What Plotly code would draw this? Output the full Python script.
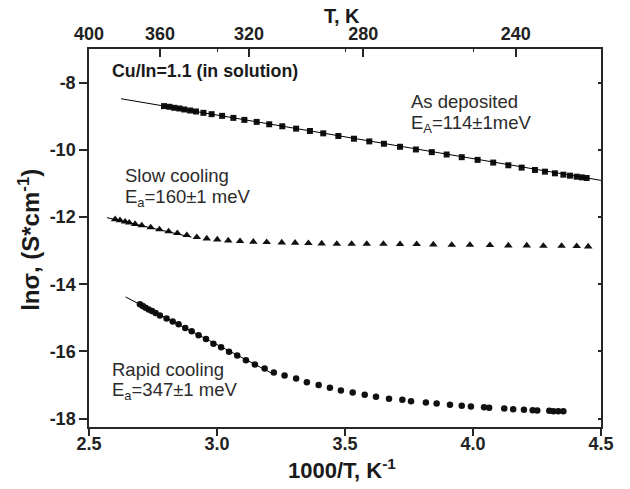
import plotly.graph_objects as go

# ---------------- data ----------------
dep_x = [2.793, 2.814, 2.833, 2.853, 2.872, 2.895, 2.918, 2.947, 2.979, 3.020,
         3.064, 3.107, 3.155, 3.204, 3.255, 3.309, 3.363, 3.415, 3.474, 3.535,
         3.595, 3.652, 3.715, 3.777, 3.839, 3.897, 3.956, 4.018, 4.079, 4.138,
         4.190, 4.242, 4.281, 4.320, 4.353, 4.379, 4.405, 4.425, 4.444]
dep_y = [-8.70, -8.72, -8.75, -8.77, -8.80, -8.83, -8.86, -8.90, -8.94, -8.99,
         -9.05, -9.11, -9.17, -9.24, -9.30, -9.37, -9.44, -9.51, -9.59, -9.67,
         -9.75, -9.82, -9.91, -9.99, -10.07, -10.14, -10.22, -10.30, -10.38, -10.46,
         -10.53, -10.60, -10.65, -10.70, -10.74, -10.77, -10.80, -10.82, -10.84]

slow_x = [2.602, 2.621, 2.641, 2.657, 2.680, 2.706, 2.741, 2.775, 2.811, 2.845,
          2.882, 2.921, 2.960, 3.001, 3.044, 3.090, 3.142, 3.194, 3.253, 3.305,
          3.357, 3.409, 3.468, 3.526, 3.585, 3.650, 3.715, 3.780, 3.845, 3.917,
          3.988, 4.066, 4.138, 4.210, 4.275, 4.346, 4.405, 4.450]
slow_y = [-12.07, -12.10, -12.14, -12.17, -12.21, -12.25, -12.31, -12.37, -12.43, -12.48,
          -12.54, -12.60, -12.64, -12.67, -12.70, -12.72, -12.74, -12.75, -12.76, -12.77,
          -12.78, -12.79, -12.80, -12.80, -12.80, -12.80, -12.81, -12.81, -12.82, -12.83,
          -12.83, -12.84, -12.85, -12.85, -12.86, -12.86, -12.87, -12.88]

rapid_x = [2.699, 2.710, 2.721, 2.733, 2.746, 2.760, 2.777, 2.803, 2.827, 2.850,
           2.876, 2.901, 2.928, 2.957, 2.986, 3.016, 3.047, 3.079, 3.113, 3.148,
           3.186, 3.222, 3.264, 3.309, 3.351, 3.397, 3.441, 3.484, 3.530, 3.577,
           3.621, 3.672, 3.724, 3.758, 3.816, 3.858, 3.910, 3.956, 3.992, 4.043,
           4.063, 4.122, 4.157, 4.199, 4.233, 4.251, 4.298, 4.314, 4.333, 4.353]
rapid_y = [-14.60, -14.65, -14.70, -14.75, -14.80, -14.86, -14.93, -15.02, -15.11, -15.19,
           -15.30, -15.40, -15.52, -15.63, -15.77, -15.88, -16.01, -16.12, -16.26, -16.39,
           -16.51, -16.63, -16.72, -16.81, -16.92, -17.00, -17.08, -17.16, -17.22, -17.29,
           -17.35, -17.41, -17.44, -17.48, -17.52, -17.55, -17.59, -17.62, -17.64, -17.66,
           -17.68, -17.70, -17.72, -17.74, -17.75, -17.76, -17.77, -17.78, -17.78, -17.78]

# fitted Arrhenius lines (end points)
fit_dep_x = [2.625, 4.500]
fit_dep_y = [-8.48, -10.91]
fit_slow_x = [2.570, 2.900]
fit_slow_y = [-12.02, -12.60]
fit_rapid_x = [2.643, 3.217]
fit_rapid_y = [-14.38, -16.66]

bottom_ticks = [2.5, 3.0, 3.5, 4.0, 4.5]
bottom_labels = ["2.5", "3.0", "3.5", "4.0", "4.5"]
top_T = [400, 360, 320, 280, 240]
y_ticks = [-8, -10, -12, -14, -16, -18]

FONT = "Liberation Sans, Arial, Helvetica, sans-serif"
AX = "#262626"
TXT = "#2b2b2b"

fig = go.Figure()
for fx, fy in [(fit_dep_x, fit_dep_y), (fit_slow_x, fit_slow_y), (fit_rapid_x, fit_rapid_y)]:
    fig.add_trace(go.Scatter(x=fx, y=fy, mode="lines", line=dict(color="black", width=1),
                             xaxis="x2", yaxis="y2", showlegend=False))
fig.add_trace(go.Scatter(x=dep_x, y=dep_y, mode="markers",
                         marker=dict(symbol="square", size=6, color="#111"), showlegend=False))
fig.add_trace(go.Scatter(x=slow_x, y=slow_y, mode="markers",
                         marker=dict(symbol="triangle-up", size=7.5, color="#111"), showlegend=False))
fig.add_trace(go.Scatter(x=rapid_x, y=rapid_y, mode="markers",
                         marker=dict(symbol="circle", size=6.5, color="#111"), showlegend=False))
# carrier trace for the bottom tick-mark axis
fig.add_trace(go.Scatter(x=[None], y=[None], xaxis="x3", yaxis="y", showlegend=False, hoverinfo="skip"))

rng_x = [2.5, 4.5]
rng_y = [-18.25, -7.0]
tickfont = dict(family=FONT, size=18, color="#222", weight="bold")
common = dict(showline=True, linewidth=1.5, linecolor=AX, showgrid=False, zeroline=False,
              automargin=False, tickwidth=1.5, tickcolor=AX)

fig.update_layout(
    width=630, height=489,
    margin=dict(l=89, r=29, t=49, b=62),
    paper_bgcolor="white", plot_bgcolor="white",
    xaxis=dict(range=rng_x, tickmode="array", tickvals=bottom_ticks, ticktext=bottom_labels,
               ticks="outside", ticklen=0, tickfont=tickfont, **common),
    xaxis3=dict(range=rng_x, overlaying="x", side="bottom", anchor="y", tickmode="array",
                tickvals=bottom_ticks, showticklabels=False, ticks="outside", ticklen=8,
                showline=False, showgrid=False, zeroline=False, automargin=False,
                tickwidth=1.5, tickcolor=AX),
    xaxis2=dict(range=rng_x, overlaying="x", side="top", anchor="y2", tickmode="array",
                tickvals=[1000.0 / t for t in top_T], ticktext=[str(t) for t in top_T],
                ticks="inside", ticklen=8,
                minor=dict(tickmode="array", tickvals=[3.0, 3.5, 4.0], ticks="inside",
                           ticklen=3, tickwidth=1.2, tickcolor=AX),
                tickfont=tickfont, **common),
    yaxis=dict(range=rng_y, tickmode="array", tickvals=y_ticks, ticktext=[str(v) for v in y_ticks],
               ticks="outside", ticklen=8, tickfont=tickfont, **common),
    yaxis2=dict(range=rng_y, overlaying="y", side="right", anchor="x2", tickmode="array",
                tickvals=y_ticks, showticklabels=False, ticks="inside", ticklen=3, **common),
)

ann = []
def add(text, x, y, size=18, bold=False, xref="x", yref="y", xanchor="left", angle=0, color=TXT):
    ann.append(dict(text=text, x=x, y=y, xref=xref, yref=yref, xanchor=xanchor, yanchor="middle",
                    showarrow=False, textangle=angle, borderpad=0,
                    font=dict(family=FONT, size=size, color=color, weight="bold" if bold else "normal")))

add("Cu/In=1.1 (in solution)", 2.585, -7.65, size=17.8, bold=True, color="#1a1a1a")
add("As deposited", 3.754, -8.56, size=18.5)
add("E<sub>A</sub>=114\u00b11meV", 3.754, -9.24, size=18.5)
add("Slow cooling", 2.638, -10.77, size=18.5)
add("E<sub>a</sub>=160\u00b11 meV", 2.638, -11.43, size=18.5)
add("Rapid cooling", 2.585, -16.53, size=18.5)
add("E<sub>a</sub>=347\u00b11 meV", 2.585, -17.19, size=18.5)

add("T, K", 0.494, 1.087, size=20, bold=True, xref="paper", yref="paper", xanchor="center", color="#1a1a1a")
add("1000/T, K<sup>-1</sup>", 0.494, -0.11, size=22, bold=True, xref="paper", yref="paper",
    xanchor="center", color="#1a1a1a")
add("ln\u03c3, (S*cm<sup>-1</sup>)", -0.117, 0.4955, size=24, bold=True, xref="paper", yref="paper",
    xanchor="center", angle=-90, color="#1a1a1a")

fig.update_layout(annotations=ann)
fig.write_html("out.html", config={"displayModeBar": False},
               post_script="document.body.style.margin='0';document.body.style.padding='0';")
